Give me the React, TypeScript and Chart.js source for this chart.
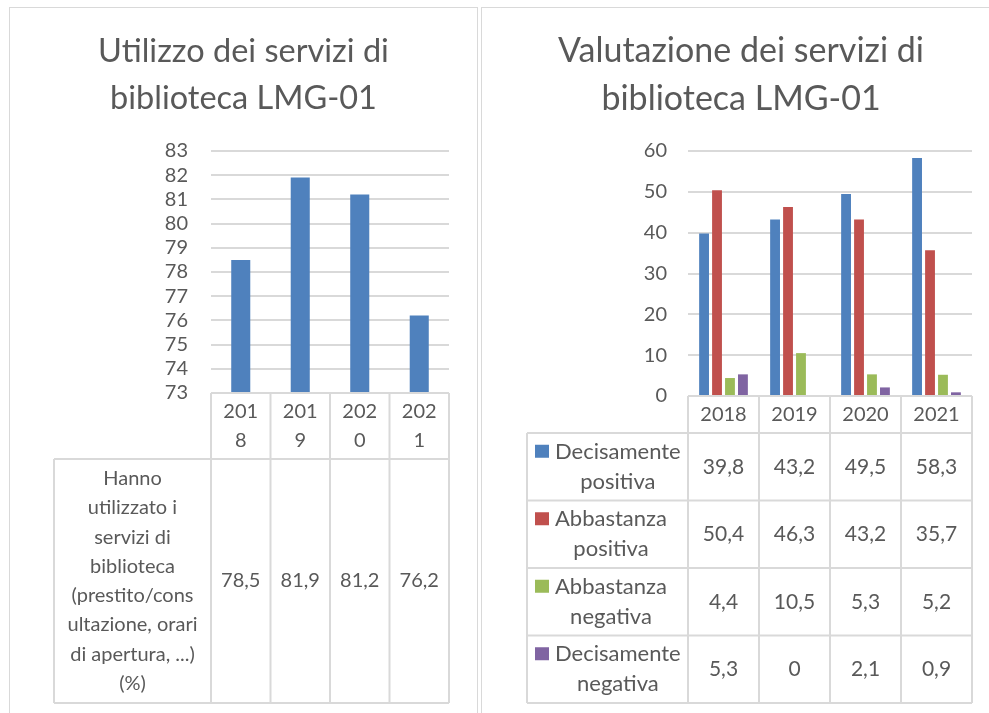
import React, { useEffect, useRef } from "react";
import { Chart, registerables } from "chart.js";

Chart.register(...registerables);

// ---------- data ----------
const years = ["2018", "2019", "2020", "2021"];

const leftTitle = ["Utilizzo dei servizi di", "biblioteca LMG-01"];
const usageSeriesName = "Hanno utilizzato i servizi di biblioteca (prestito/consultazione, orari di apertura, ...) (%)";
const usageLabelLines = [
  "Hanno",
  "utilizzato i",
  "servizi di",
  "biblioteca",
  "(prestito/cons",
  "ultazione, orari",
  "di apertura, ...)",
  "(%)",
];
const usageValues = [78.5, 81.9, 81.2, 76.2];
const usageTicks = { min: 73, max: 83, step: 1 };

const rightTitle = ["Valutazione dei servizi di", "biblioteca LMG-01"];
const seriesNames = [
  "Decisamente positiva",
  "Abbastanza positiva",
  "Abbastanza negativa",
  "Decisamente negativa",
];
const seriesLabelLines = [
  ["Decisamente", "positiva"],
  ["Abbastanza", "positiva"],
  ["Abbastanza", "negativa"],
  ["Decisamente", "negativa"],
];
const decisamentePositiva = [39.8, 43.2, 49.5, 58.3];
const abbastanzaPositiva = [50.4, 46.3, 43.2, 35.7];
const abbastanzaNegativa = [4.4, 10.5, 5.3, 5.2];
const decisamenteNegativa = [5.3, 0, 2.1, 0.9];
const ratingTicks = { min: 0, max: 60, step: 10 };

// ---------- styles ----------
const FONT = "Lato, 'Noto Sans', sans-serif";
const TEXT = "#595959";
const GRID = "#d9d9d9";
const seriesColors = ["#4f81bd", "#c0504d", "#9bbb59", "#8064a2"];

const fmt = (v: number) => String(v).replace(".", ",");

function wrapChars(ctx: CanvasRenderingContext2D, text: string, maxW: number): string[] {
  if (ctx.measureText(text).width <= maxW) return [text];
  const lines: string[] = [];
  let cur = "";
  for (const ch of text) {
    if (cur && ctx.measureText(cur + ch).width > maxW) {
      lines.push(cur);
      cur = ch;
    } else cur += ch;
  }
  if (cur) lines.push(cur);
  return lines;
}

const dataTablePlugin = {
  id: "dataTable",
  afterDraw(chart: any, _args: any, opts: any) {
    const { ctx, chartArea } = chart;
    const x = chart.scales.x;
    const labels: string[] = chart.data.labels;
    const n = labels.length;
    const catW = x.getPixelForValue(1) - x.getPixelForValue(0);
    const edges: number[] = [];
    for (let i = 0; i < n; i++) edges.push(x.getPixelForValue(i) - catW / 2);
    edges.push(x.getPixelForValue(n - 1) + catW / 2);
    const top = chartArea.bottom;
    const headerBottom = top + opts.headerHeight;
    const datasets = chart.data.datasets;
    const rowYs = [headerBottom];
    datasets.forEach(() => rowYs.push(rowYs[rowYs.length - 1] + opts.rowHeight));
    const bottom = rowYs[rowYs.length - 1];
    const labelLeft = opts.labelLeft;

    ctx.save();
    ctx.strokeStyle = GRID;
    ctx.lineWidth = 2;
    const line = (x1: number, y1: number, x2: number, y2: number) => {
      ctx.beginPath();
      ctx.moveTo(x1, y1);
      ctx.lineTo(x2, y2);
      ctx.stroke();
    };
    line(edges[0], top, edges[n], top);
    rowYs.forEach((y) => line(labelLeft, y, edges[n], y));
    edges.forEach((e) => line(e, top, e, bottom));
    line(labelLeft, headerBottom, labelLeft, bottom);

    ctx.fillStyle = TEXT;
    ctx.textAlign = "center";
    ctx.textBaseline = "middle";

    // header (category labels)
    ctx.font = `${opts.headerFontSize}px ${FONT}`;
    const hc = (top + headerBottom) / 2;
    labels.forEach((lab, i) => {
      const lines = wrapChars(ctx, lab, catW - 2 * opts.cellPadding);
      const start = hc - ((lines.length - 1) * opts.headerLineHeight) / 2;
      lines.forEach((l, k) => ctx.fillText(l, x.getPixelForValue(i), start + k * opts.headerLineHeight));
    });

    // rows
    datasets.forEach((ds: any, r: number) => {
      const cy = (rowYs[r] + rowYs[r + 1]) / 2;
      ctx.font = `${opts.valueFontSize}px ${FONT}`;
      ds.data.forEach((v: number, i: number) => {
        ctx.fillStyle = TEXT;
        ctx.fillText(fmt(v), x.getPixelForValue(i), cy);
      });
      ctx.font = `${opts.labelFontSize}px ${FONT}`;
      const lines: string[] = opts.rowLabels[r];
      const lh = opts.labelLineHeight;
      const start = cy - ((lines.length - 1) * lh) / 2;
      if (opts.showKeys) {
        const textLeft = labelLeft + opts.textIndent;
        const blockW = Math.max(...lines.map((l) => ctx.measureText(l).width));
        ctx.fillStyle = ds.backgroundColor;
        ctx.fillRect(labelLeft + opts.keyLeft, start - 7, 14, 13);
        ctx.fillStyle = TEXT;
        lines.forEach((l, k) => ctx.fillText(l, textLeft + blockW / 2, start + k * lh));
      } else {
        const cx = (labelLeft + edges[0]) / 2;
        lines.forEach((l, k) => ctx.fillText(l, cx, start + k * lh));
      }
    });
    ctx.restore();
  },
};

function makeOptions(
  title: string[],
  titleSize: number,
  titleLineHeight: number,
  titlePadTop: number,
  ticks: { min: number; max: number; step: number },
  chartLeft: number,
  tickPad: number,
  padSide: number,
  padBottom: number,
  table: any
): any {
  return {
    responsive: false,
    animation: false,
    layout: { padding: { left: padSide, top: 0, right: padSide, bottom: padBottom } },
    plugins: {
      legend: { display: false },
      tooltip: { enabled: false },
      title: {
        display: true,
        text: title,
        color: TEXT,
        font: { family: FONT, size: titleSize, weight: "normal", lineHeight: titleLineHeight },
        padding: { top: titlePadTop, bottom: 143 - titlePadTop - 2 * titleSize * titleLineHeight },
      },
      dataTable: table,
    },
    scales: {
      x: { display: false, offset: true },
      y: {
        min: ticks.min,
        max: ticks.max,
        border: { display: false },
        grid: { color: GRID, lineWidth: 2, drawTicks: false },
        ticks: {
          stepSize: ticks.step,
          autoSkip: false,
          color: TEXT,
          padding: tickPad,
          font: { family: FONT, size: 20 },
        },
        afterFit(scale: any) {
          scale.width = chartLeft - padSide;
        },
      },
    },
  };
}

function ChartCanvas({ config, width, height, style }: any) {
  const ref = useRef<HTMLCanvasElement>(null);
  useEffect(() => {
    const chart = new Chart(ref.current as HTMLCanvasElement, config);
    return () => chart.destroy();
  }, []);
  return <canvas ref={ref} width={width} height={height} style={{ position: "absolute", ...style }} />;
}

export default function App() {
  const leftConfig: any = {
    type: "bar",
    data: {
      labels: years,
      datasets: [
        {
          label: usageSeriesName,
          data: usageValues,
          backgroundColor: seriesColors[0],
          categoryPercentage: 1,
          barPercentage: 0.32,
        },
      ],
    },
    options: makeOptions(leftTitle, 32.5, 1.44, 20, usageTicks, 201, 23, 28, 320, {
      headerHeight: 66,
      rowHeight: 244,
      labelLeft: 44,
      cellPadding: 10,
      headerLineHeight: 29,
      labelLineHeight: 29.3,
      headerFontSize: 20,
      valueFontSize: 20,
      labelFontSize: 20,
      rowLabels: [usageLabelLines],
      showKeys: false,
    }),
    plugins: [dataTablePlugin],
  };

  const rightSeries = [decisamentePositiva, abbastanzaPositiva, abbastanzaNegativa, decisamenteNegativa];
  const rightConfig: any = {
    type: "bar",
    data: {
      labels: years,
      datasets: rightSeries.map((d, i) => ({
        label: seriesNames[i],
        data: d,
        backgroundColor: seriesColors[i],
        categoryPercentage: 0.73,
        barPercentage: 0.76,
      })),
    },
    options: makeOptions(rightTitle, 34, 1.42, 19, ratingTicks, 205, 21, 27, 317, {
      headerHeight: 37,
      rowHeight: 67.5,
      labelLeft: 44,
      cellPadding: 4,
      headerLineHeight: 29,
      labelLineHeight: 30,
      headerFontSize: 20,
      valueFontSize: 21,
      labelFontSize: 22,
      rowLabels: seriesLabelLines,
      showKeys: true,
      keyLeft: 8,
      textIndent: 28,
    }),
    plugins: [dataTablePlugin],
  };

  return (
    <div
      style={{
        position: "absolute",
        left: 0,
        top: 0,
        width: 989,
        height: 713,
        overflow: "hidden",
        background: "#ffffff",
      }}
    >
      <div
        style={{
          position: "absolute",
          left: 9,
          top: 7,
          width: 469,
          height: 730,
          border: `1.5px solid ${GRID}`,
          boxSizing: "border-box",
        }}
      />
      <div
        style={{
          position: "absolute",
          left: 481,
          top: 7,
          width: 540,
          height: 730,
          border: `1.5px solid ${GRID}`,
          boxSizing: "border-box",
        }}
      />
      <ChartCanvas config={leftConfig} width={467} height={705} style={{ left: 10, top: 8 }} />
      <ChartCanvas config={rightConfig} width={516} height={705} style={{ left: 483, top: 8 }} />
    </div>
  );
}
